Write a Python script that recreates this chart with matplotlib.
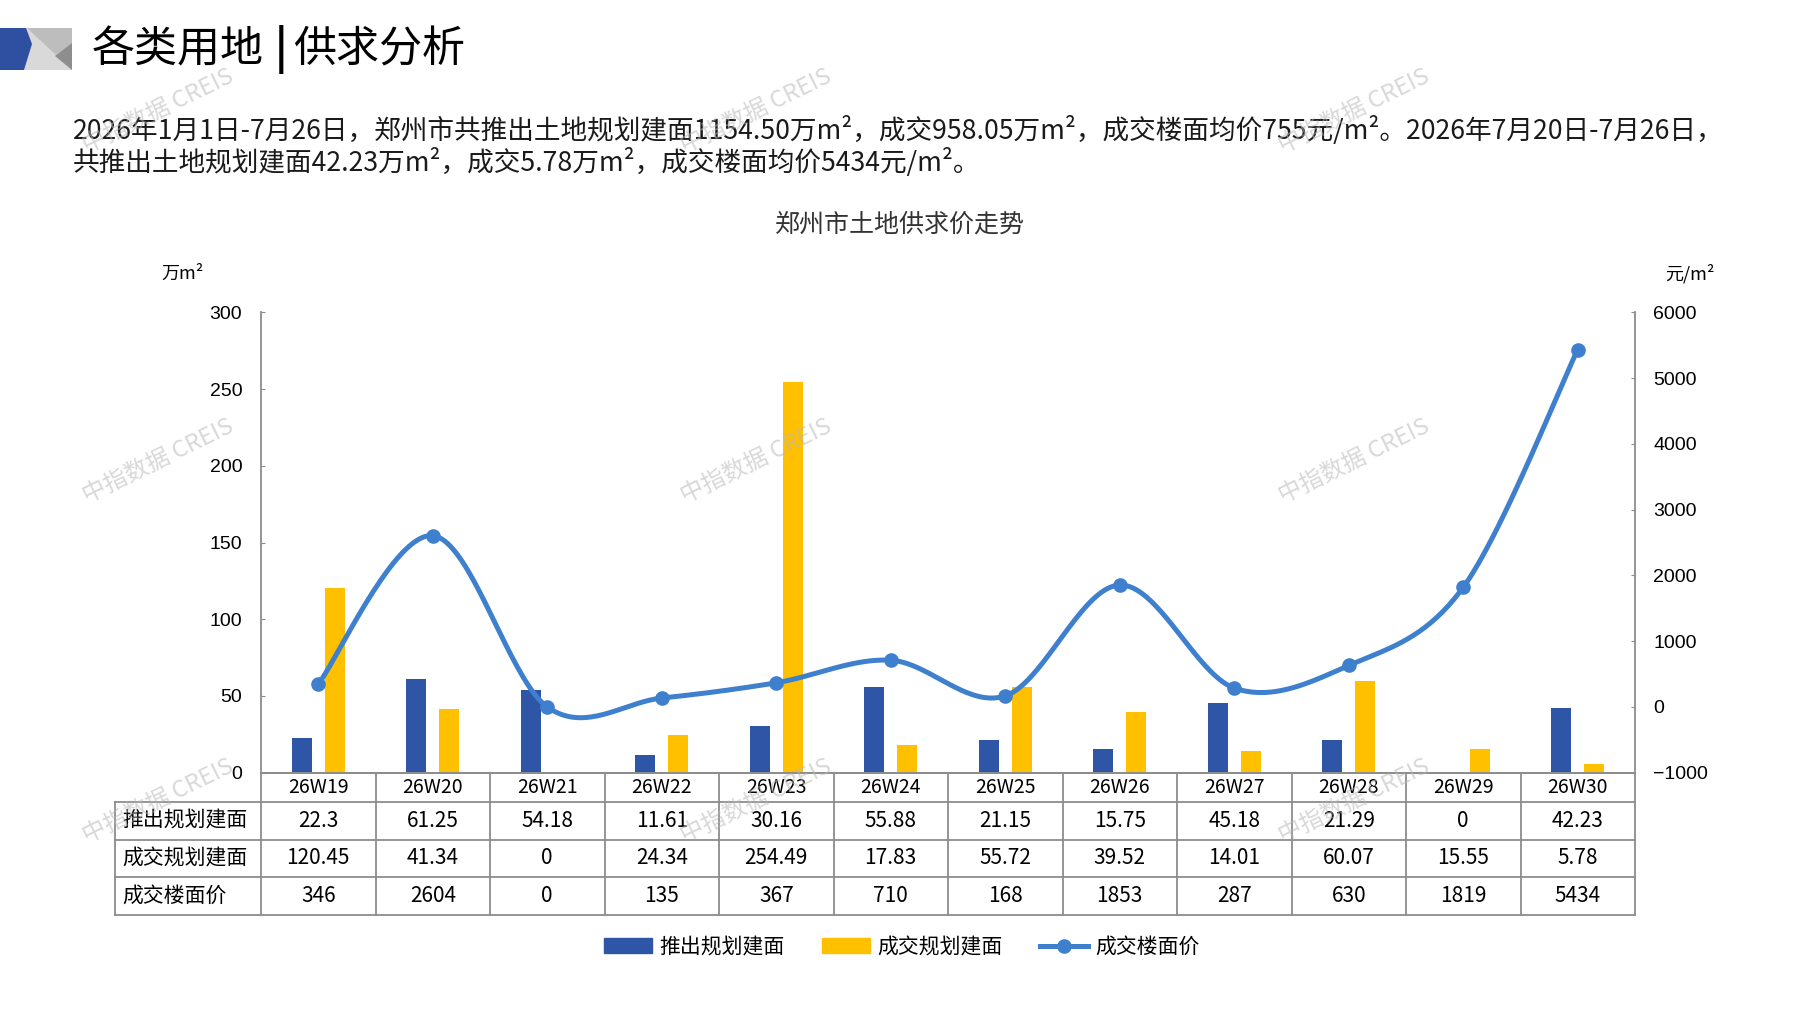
import numpy as np
import matplotlib
matplotlib.use("Agg")
import matplotlib.pyplot as plt
from matplotlib.patches import Polygon, Patch
from matplotlib.lines import Line2D

plt.rcParams['font.family'] = ['Noto Sans CJK SC', 'DejaVu Sans']

# data
weeks = ['26W19', '26W20', '26W21', '26W22', '26W23', '26W24',
         '26W25', '26W26', '26W27', '26W28', '26W29', '26W30']
supply = [22.3, 61.25, 54.18, 11.61, 30.16, 55.88, 21.15, 15.75, 45.18, 21.29, 0, 42.23]
deal = [120.45, 41.34, 0, 24.34, 254.49, 17.83, 55.72, 39.52, 14.01, 60.07, 15.55, 5.78]
price = [346, 2604, 0, 135, 367, 710, 168, 1853, 287, 630, 1819, 5434]
row_names = ['推出规划建面', '成交规划建面', '成交楼面价']

line1 = ("2026年1月1日-7月26日，郑州市共推出土地规划建面1154.50万m²，成交958.05万m²，"
         "成交楼面均价755元/m²。2026年7月20日-7月26日，")
line2 = "共推出土地规划建面42.23万m²，成交5.78万m²，成交楼面均价5434元/m²。"

BLUE = '#2F56A6'
YELLOW = '#FFC000'
LINEC = '#3E80CE'
GRAY = '#8C8C8C'

W, H = 1797, 1010
fig = plt.figure(figsize=(W / 100, H / 100), dpi=100)

# plot area in pixels
L, R, T, B = 261, 1635, 312.3, 772.7
ax = fig.add_axes([L / W, 1 - B / H, (R - L) / W, (B - T) / H])
x = np.arange(len(weeks))
bw = 0.175
ax.bar(x - 0.145, supply, bw, color=BLUE, zorder=2)
ax.bar(x + 0.145, deal, bw, color=YELLOW, zorder=2)
ax.set_xlim(-0.5, len(weeks) - 0.5)
ax.set_ylim(0, 300)
ax.set_yticks(range(0, 301, 50))
ax.set_xticks([])
for s in ['top', 'right']:
    ax.spines[s].set_visible(False)
for s in ['left', 'bottom']:
    ax.spines[s].set_color(GRAY)
    ax.spines[s].set_linewidth(1.3)
ax.tick_params(axis='y', direction='in', length=3, color=GRAY, pad=13.5,
               labelsize=14)
for t in ax.get_yticklabels():
    t.set_fontfamily('Liberation Sans')

ax2 = ax.twinx()
ax2.set_ylim(-1000, 6000)
ax2.set_yticks(range(-1000, 6001, 1000))
for s in ['top', 'left', 'bottom']:
    ax2.spines[s].set_visible(False)
ax2.spines['right'].set_color(GRAY)
ax2.spines['right'].set_linewidth(1.3)
ax2.tick_params(axis='y', direction='in', length=3, color=GRAY, pad=13,
                labelsize=14)
for t in ax2.get_yticklabels():
    t.set_fontfamily('Liberation Sans')

# smooth line like Excel (Catmull-Rom through the points)
px = np.array(x, dtype=float)
py = np.array(price, dtype=float)
P = np.column_stack([px, py])
Pe = np.vstack([P[0], P, P[-1]])
curve = []
tt = np.linspace(0, 1, 40)
for i in range(1, len(Pe) - 2):
    p0, p1, p2, p3 = Pe[i - 1], Pe[i], Pe[i + 1], Pe[i + 2]
    c1 = p1 + (p2 - p0) / 6
    c2 = p2 - (p3 - p1) / 6
    seg = ((1 - tt) ** 3)[:, None] * p1 + (3 * (1 - tt) ** 2 * tt)[:, None] * c1 \
        + (3 * (1 - tt) * tt ** 2)[:, None] * c2 + (tt ** 3)[:, None] * p2
    curve.append(seg)
curve = np.vstack(curve)
ax2.plot(curve[:, 0], curve[:, 1], color=LINEC, lw=3.6, solid_capstyle='round', zorder=3)
ax2.plot(px, py, 'o', color=LINEC, ms=9.5, zorder=4)

# overlay in pixel coordinates
ov = fig.add_axes([0, 0, 1, 1], zorder=10)
ov.set_xlim(0, W)
ov.set_ylim(H, 0)
ov.axis('off')
ov.patch.set_alpha(0)

# logo
ov.add_patch(Polygon([(22, 28), (72, 28), (72, 70), (22, 70)], color='#D9D9D9', lw=0))
ov.add_patch(Polygon([(27, 28), (72, 28), (72, 44), (56, 55)], color='#BDBDBD', lw=0))
ov.add_patch(Polygon([(55, 56), (72, 43), (72, 70)], color='#8E8E8E', lw=0))
ov.add_patch(Polygon([(0, 28), (26, 28), (32, 44), (24, 70), (0, 70)], color='#2F4FA0', lw=0))

ov.text(92, 50, '各类用地', fontsize=31, va='center', ha='left')
ov.text(281, 50, '|', fontsize=31, va='center', ha='center', fontweight='bold')
ov.text(293, 50, '供求分析', fontsize=31, va='center', ha='left')

ov.text(73, 130, line1, fontsize=19.2, va='center', ha='left', color='#1A1A1A',
        fontweight='light')
ov.text(73, 163, line2, fontsize=19.2, va='center', ha='left', color='#1A1A1A',
        fontweight='light')

ov.text(900, 225, '郑州市土地供求价走势', fontsize=18, va='center', ha='center', color='#333333')
ov.text(183, 274, '万m²', fontsize=13, va='center', ha='center')
ov.text(1690, 274, '元/m²', fontsize=13, va='center', ha='center')

# table
cw = (R - L) / len(weeks)
rows_y = [B, 802, 839.7, 877, 914.7]
TL = 114.7
for i, yy in enumerate(rows_y):
    x0 = L if i == 0 else TL
    ov.plot([x0, R], [yy, yy], color=GRAY, lw=1.3)
ov.plot([TL, TL], [rows_y[1], rows_y[-1]], color=GRAY, lw=1.3)
for i in range(len(weeks) + 1):
    ov.plot([L + i * cw, L + i * cw], [B, rows_y[-1]], color=GRAY, lw=1.3)
for i, w in enumerate(weeks):
    cx = L + (i + 0.5) * cw
    ov.text(cx, (rows_y[0] + rows_y[1]) / 2, w, fontsize=14, ha='center', va='center')
    for r, vals in enumerate([supply, deal, price]):
        cy = (rows_y[r + 1] + rows_y[r + 2]) / 2
        ov.text(cx, cy, f"{vals[i]:g}", fontsize=15, ha='center', va='center')
for r, name in enumerate(row_names):
    cy = (rows_y[r + 1] + rows_y[r + 2]) / 2
    ov.text(122, cy, name, fontsize=15, ha='left', va='center')

# watermarks
for wx in [158, 756, 1354]:
    for wy in [111, 461, 801]:
        ov.text(wx, wy, '中指数据 CREIS', fontsize=17, rotation=26, ha='center', va='center',
                color='#B8B8B8', alpha=0.55, rotation_mode='anchor')

handles = [Patch(color=BLUE, label='推出规划建面'),
           Patch(color=YELLOW, label='成交规划建面'),
           Line2D([0], [0], color=LINEC, lw=3.6, marker='o', ms=9.5, label='成交楼面价')]
fig.legend(handles=handles, loc='center', bbox_to_anchor=(902 / W, 1 - 947 / H), ncol=3,
           frameon=False, fontsize=15, handlelength=2.3, handletextpad=0.35,
           columnspacing=1.8, numpoints=1)

fig.savefig('out.png', dpi=100, facecolor='white')
